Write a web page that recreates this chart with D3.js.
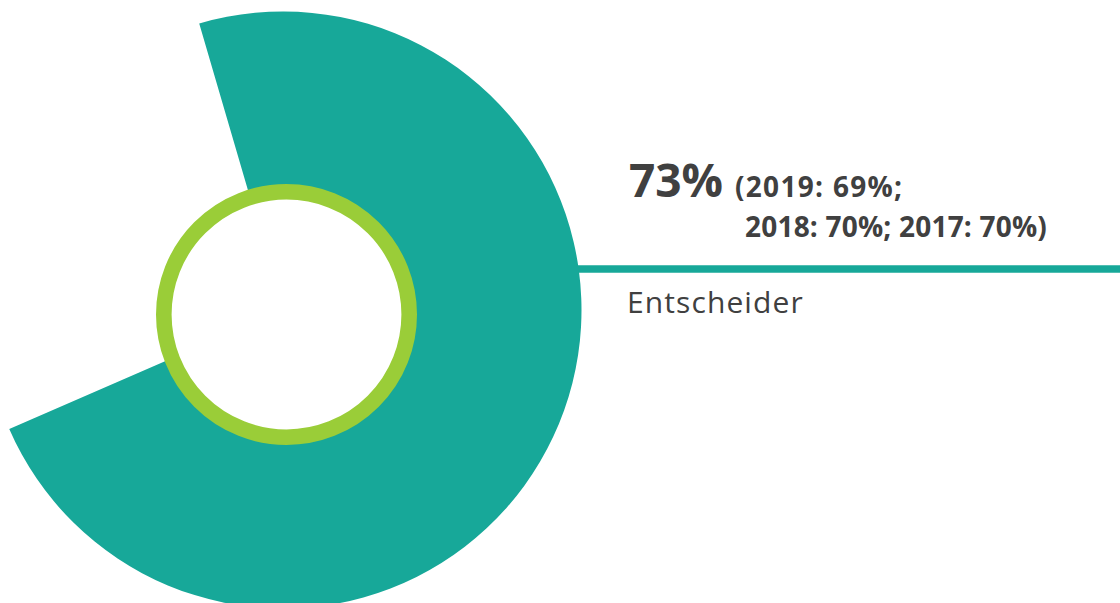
<!DOCTYPE html>
<html>
<head>
<meta charset="utf-8">
<script src="https://cdn.jsdelivr.net/npm/d3@7"></script>
<style>
  html, body { margin: 0; padding: 0; background: #fff; }
  svg { display: block; }
  text { font-family: "Open Sans", "Noto Sans", sans-serif; fill: #404040; }
</style>
</head>
<body>
<svg id="chart" width="1120" height="603"></svg>
<script>
// dati
const share = 73;                       // quota attuale (%)
const prevYears = ["2019", "2018", "2017"];
const prevValues = [69, 70, 70];
const groupLabel = "Entscheider";

const svg = d3.select('#chart');
const teal = '#17a899';
const green = '#9acd38';

// centro e raggi del donut
const cx = 283, cy = 310;
const outerR = 298.5, innerR = 118;
const startDeg = -16.3;   // inizio arco (gradi da ore 12)

// scala percentuale -> angolo
const angle = d3.scaleLinear()
    .domain([0, 100])
    .range([0, 2 * Math.PI]);
const start = startDeg * Math.PI / 180;

const arc = d3.arc()
    .innerRadius(innerR)
    .outerRadius(outerR);

// linea orizzontale verso il testo
svg.append('line')
    .attr('x1', cx + 250)
    .attr('x2', 1120)
    .attr('y1', 269)
    .attr('y2', 269)
    .attr('stroke', teal)
    .attr('stroke-width', 7.5);

svg.append('g')
    .attr('transform', `translate(${cx},${cy})`)
    .append('path')
    .datum({startAngle: start, endAngle: start + angle(share)})
    .attr('fill', teal)
    .attr('d', arc);

// anello verde interno
svg.append('circle')
    .attr('cx', 286.5)
    .attr('cy', 314.5)
    .attr('r', 122.7)
    .attr('fill', '#fff')
    .attr('stroke', green)
    .attr('stroke-width', 15.6);

// testi
svg.append('text')
    .attr('x', 629)
    .attr('y', 196.5)
    .style('font-size', '46px')
    .style('font-weight', 700)
    .text(share + '%');

svg.append('text')
    .attr('x', 735)
    .attr('y', 196.5)
    .style('font-size', '28px')
    .style('font-weight', 700)
    .style('letter-spacing', '1.3px')
    .text('(' + prevYears[0] + ': ' + prevValues[0] + '%;');

svg.append('text')
    .attr('x', 745)
    .attr('y', 236.5)
    .style('font-size', '28px')
    .style('font-weight', 700)
    .style('letter-spacing', '0.2px')
    .text(prevYears.slice(1).map((y, i) => y + ': ' + prevValues[i + 1] + '%').join('; ') + ')');

svg.append('text')
    .attr('x', 627)
    .attr('y', 312.8)
    .style('font-size', '30px')
    .style('letter-spacing', '1.1px')
    .text(groupLabel);
</script>
</body>
</html>
